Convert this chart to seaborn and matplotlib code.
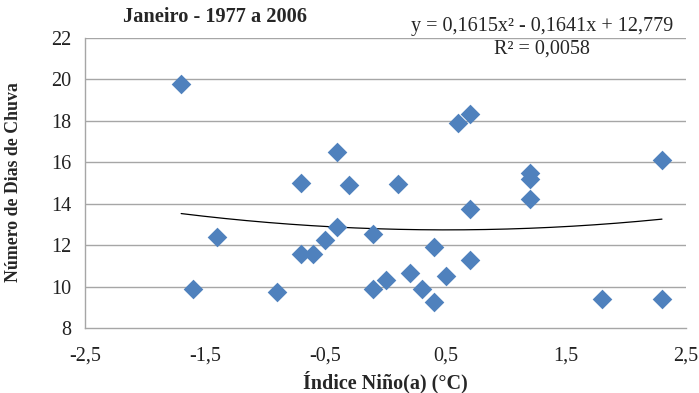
import numpy as np
import pandas as pd
import matplotlib
matplotlib.use("Agg")
import matplotlib.pyplot as plt
import seaborn as sns

x_nino = [-1.7, -1.6, -1.4, -0.9, -0.7, -0.7, -0.6, -0.5, -0.4, -0.4,
          -0.3, -0.1, -0.1, 0.0, 0.1, 0.2, 0.3, 0.4, 0.4, 0.5,
          0.6, 0.7, 0.7, 0.7, 1.2, 1.2, 1.2, 1.8, 2.3, 2.3]
dias_chuva = [19.8, 9.9, 12.4, 9.75, 15.0, 11.55, 11.55, 12.25, 16.5, 12.9,
              14.9, 12.55, 9.9, 10.3, 14.95, 10.65, 9.9, 11.9, 9.25, 10.5,
              17.9, 18.35, 13.75, 11.3, 15.5, 15.2, 14.25, 9.4, 9.4, 16.1]
coef = [0.1615, -0.1641, 12.779]   # a, b, c
r2 = 0.0058
x_ticks = [-2.5, -1.5, -0.5, 0.5, 1.5, 2.5]
x_tick_labels = ["-2,5", "-1,5", "-0,5", "0,5", "1,5", "2,5"]
y_ticks = [8, 10, 12, 14, 16, 18, 20, 22]

sns.set_style("white")
plt.rcParams['font.family'] = ['Liberation Serif', 'DejaVu Serif']

fig = plt.figure(figsize=(6.99, 3.93), dpi=100)
W, H = 699, 393
ax = fig.add_axes([85 / W, 1 - 328 / H, (686 - 85) / W, (328 - 38) / H])

df = pd.DataFrame({"x": x_nino, "y": dias_chuva})

for yt in y_ticks[1:]:
    ax.axhline(yt, color="#A6A6A6", lw=1.0, zorder=0)

xs = np.linspace(min(x_nino), max(x_nino), 200)
ax.plot(xs, np.polyval(coef, xs), color="black", lw=0.9, zorder=2)

sns.scatterplot(data=df, x="x", y="y", marker="D", s=100, color="#4F81BD",
                edgecolor="#4F81BD", linewidth=0, ax=ax, zorder=3)

ax.set_xlim(-2.5, 2.5)
ax.set_ylim(8, 22)
ax.set_xticks(x_ticks)
ax.set_xticklabels(x_tick_labels)
ax.set_yticks(y_ticks)
ax.tick_params(axis="both", labelsize=14.5, colors="#222222", length=6,
               width=1, direction="out", color="#A6A6A6", pad=4)
ax.tick_params(axis="x", pad=7)
for s in ["top", "right"]:
    ax.spines[s].set_visible(False)
for s in ["left", "bottom"]:
    ax.spines[s].set_color("#A6A6A6")
    ax.spines[s].set_linewidth(1)

ax.set_xlabel("Índice Niño(a) (°C)", fontsize=14.5, fontweight="bold", va="center")
ax.set_ylabel("Número de Dias de Chuva", fontsize=12.8, fontweight="bold", va="center")
ax.xaxis.set_label_coords(0.5, (328 - 382) / 290)
ax.yaxis.set_label_coords((14 - 85) / 601, (328 - 182) / 290)

fig.text(123 / W, 1 - 17 / H, "Janeiro - 1977 a 2006", fontsize=14.7,
         fontweight="bold", ha="left", va="center")

eq = "y = {:.4f}x² - {:.4f}x + {:.3f}".format(coef[0], -coef[1], coef[2]).replace(".", ",")
r2t = "R² = {:.4f}".format(r2).replace(".", ",")
fig.text(542 / W, 1 - 26 / H, eq, fontsize=14.5, ha="center", va="center")
fig.text(542 / W, 1 - 49 / H, r2t, fontsize=14.5, ha="center", va="center")

fig.savefig("out.png", dpi=100)
